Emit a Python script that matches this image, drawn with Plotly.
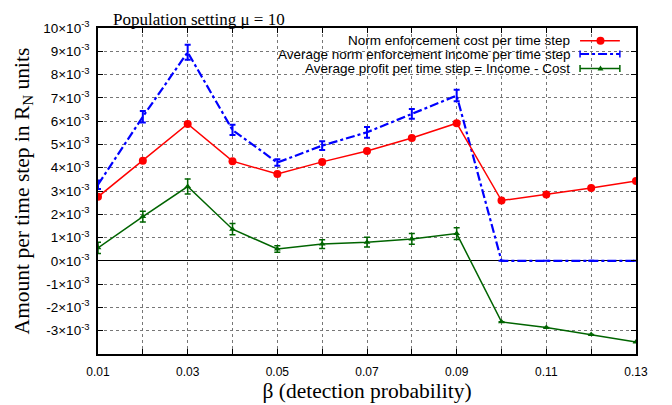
import plotly.graph_objects as go

beta = [0.01, 0.02, 0.03, 0.04, 0.05, 0.06, 0.07, 0.08, 0.09, 0.10, 0.11, 0.12, 0.13]
# values in units of 1e-3
cost = [2.75, 4.30, 5.88, 4.28, 3.73, 4.25, 4.72, 5.28, 5.91, 2.59, 2.85, 3.13, 3.43]
income = [3.27, 6.19, 8.96, 5.62, 4.22, 4.95, 5.52, 6.31, 7.10, 0, 0, 0, 0]
income_err = [0.18, 0.25, 0.32, 0.22, 0.14, 0.19, 0.23, 0.21, 0.25, 0, 0, 0, 0]
profit = [0.56, 1.90, 3.19, 1.36, 0.51, 0.72, 0.80, 0.94, 1.17, -2.62, -2.86, -3.16, -3.48]
profit_err = [0.24, 0.23, 0.32, 0.24, 0.14, 0.19, 0.21, 0.23, 0.25, 0, 0, 0, 0]

x_tickvals = [0.01, 0.03, 0.05, 0.07, 0.09, 0.11, 0.13]
x_ticktext = ["0.01", "0.03", "0.05", "0.07", "0.09", "0.11", "0.13"]
y_tickvals = list(range(-3, 11))
y_ticktext = [f"{v}×10<sup>-3</sup>" for v in y_tickvals]

legend_labels = [
    "Norm enforcement cost per time step",
    "Average norm enforcement income per time step",
    "Average profit per time step = Income - Cost",
]

RED = "rgb(255,0,0)"
BLUE = "rgb(0,0,255)"
GREEN = "rgb(0,100,0)"

fig = go.Figure()
fig.add_trace(go.Scatter(
    x=beta, y=income, mode="lines",
    line=dict(color=BLUE, width=2.2, dash="dashdot"),
    error_y=dict(type="data", array=income_err, color=BLUE, thickness=2, width=3),
    showlegend=False))
fig.add_trace(go.Scatter(
    x=beta, y=cost, mode="lines+markers",
    line=dict(color=RED, width=1.5),
    marker=dict(symbol="circle", size=8, color=RED),
    showlegend=False))
fig.add_trace(go.Scatter(
    x=beta, y=profit, mode="lines+markers",
    line=dict(color=GREEN, width=1.5),
    marker=dict(symbol="triangle-up", size=6, color=GREEN),
    error_y=dict(type="data", array=profit_err, color=GREEN, thickness=1.5, width=3),
    showlegend=False))

shapes = []
# opaque key background
shapes.append(dict(type="rect", xref="paper", yref="paper", x0=0.199, x1=0.989, y0=0.859, y1=1.0,
                   fillcolor="white", line=dict(width=0), layer="between"))
annotations = []
rows_y = [0.961, 0.920, 0.876]
colors = [RED, BLUE, GREEN]
dashes = ["solid", "dashdot", "solid"]
for i, (lab, yy, c, d) in enumerate(zip(legend_labels, rows_y, colors, dashes)):
    annotations.append(dict(text=lab, xref="paper", yref="paper", x=0.881, y=yy,
                            xanchor="right", yanchor="middle", showarrow=False,
                            font=dict(family="Liberation Sans, Arial", size=13.5, color="black")))
    shapes.append(dict(type="line", xref="paper", yref="paper", x0=0.896, x1=0.970, y0=yy, y1=yy,
                       line=dict(color=c, width=2 if i == 1 else 1.5, dash=d)))
    if i > 0:
        for xe in (0.896, 0.970):
            shapes.append(dict(type="line", xref="paper", yref="paper", xsizemode="scaled",
                               ysizemode="pixel", yanchor=yy, x0=xe, x1=xe, y0=-3.5, y1=3.5,
                               line=dict(color=c, width=1.5)))
# markers in key
shapes.append(dict(type="circle", xref="paper", yref="paper", xsizemode="pixel", ysizemode="pixel",
                   xanchor=0.934, yanchor=rows_y[0], x0=-4, x1=4, y0=-4, y1=4,
                   fillcolor=RED, line=dict(color=RED, width=0)))
shapes.append(dict(type="path", xref="paper", yref="paper", xsizemode="pixel", ysizemode="pixel",
                   xanchor=0.934, yanchor=rows_y[2], path="M -3,-2 L 3,-2 L 0,3 Z",
                   fillcolor=GREEN, line=dict(color=GREEN, width=0)))

annotations.append(dict(text="Population setting μ = 10", xref="paper", yref="paper",
                        x=0.025, y=1.0, xanchor="left", yanchor="top", yshift=20, showarrow=False,
                        font=dict(family="Liberation Serif, Times New Roman", size=17, color="black")))

fig.update_layout(
    width=672, height=405,
    margin=dict(l=90, r=44, t=20, b=59, autoexpand=False),
    paper_bgcolor="white", plot_bgcolor="white",
    shapes=shapes, annotations=annotations,
    xaxis=dict(range=[0.01, 0.13], tickvals=x_tickvals, ticktext=x_ticktext, automargin=False,
               showgrid=True, gridcolor="#777", griddash="dot", gridwidth=1,
               ticks="inside", ticklen=5, tickcolor="black",
               minor=dict(dtick=0.01, tick0=0.0, ticks="inside", ticklen=5, tickcolor="black",
                          showgrid=True, gridcolor="#777", griddash="dot", gridwidth=1),
               showline=True, linecolor="black", linewidth=1.5, mirror="ticks",
               zeroline=False, ticklabelstandoff=6,
               tickfont=dict(family="Liberation Sans, Arial", size=12, color="black"),
               title=dict(text="β (detection probability)", standoff=0,
                          font=dict(family="Liberation Serif, Times New Roman", size=21.5, color="black"))),
    yaxis=dict(range=[-4, 10], tickvals=y_tickvals, ticktext=y_ticktext, automargin=False,
               showgrid=True, gridcolor="#777", griddash="dot", gridwidth=1,
               ticks="inside", ticklen=5, tickcolor="black",
               showline=True, linecolor="black", linewidth=1.5, mirror="ticks",
               zeroline=True, zerolinecolor="black", zerolinewidth=1,
               ticklabelstandoff=4,
               tickfont=dict(family="Liberation Sans, Arial", size=13.5, color="black"),
               title=dict(text="Amount per time step in R<sub>N</sub> units", standoff=8,
                          font=dict(family="Liberation Serif, Times New Roman", size=21.5, color="black"))),
)

fig.write_html("out.html")
